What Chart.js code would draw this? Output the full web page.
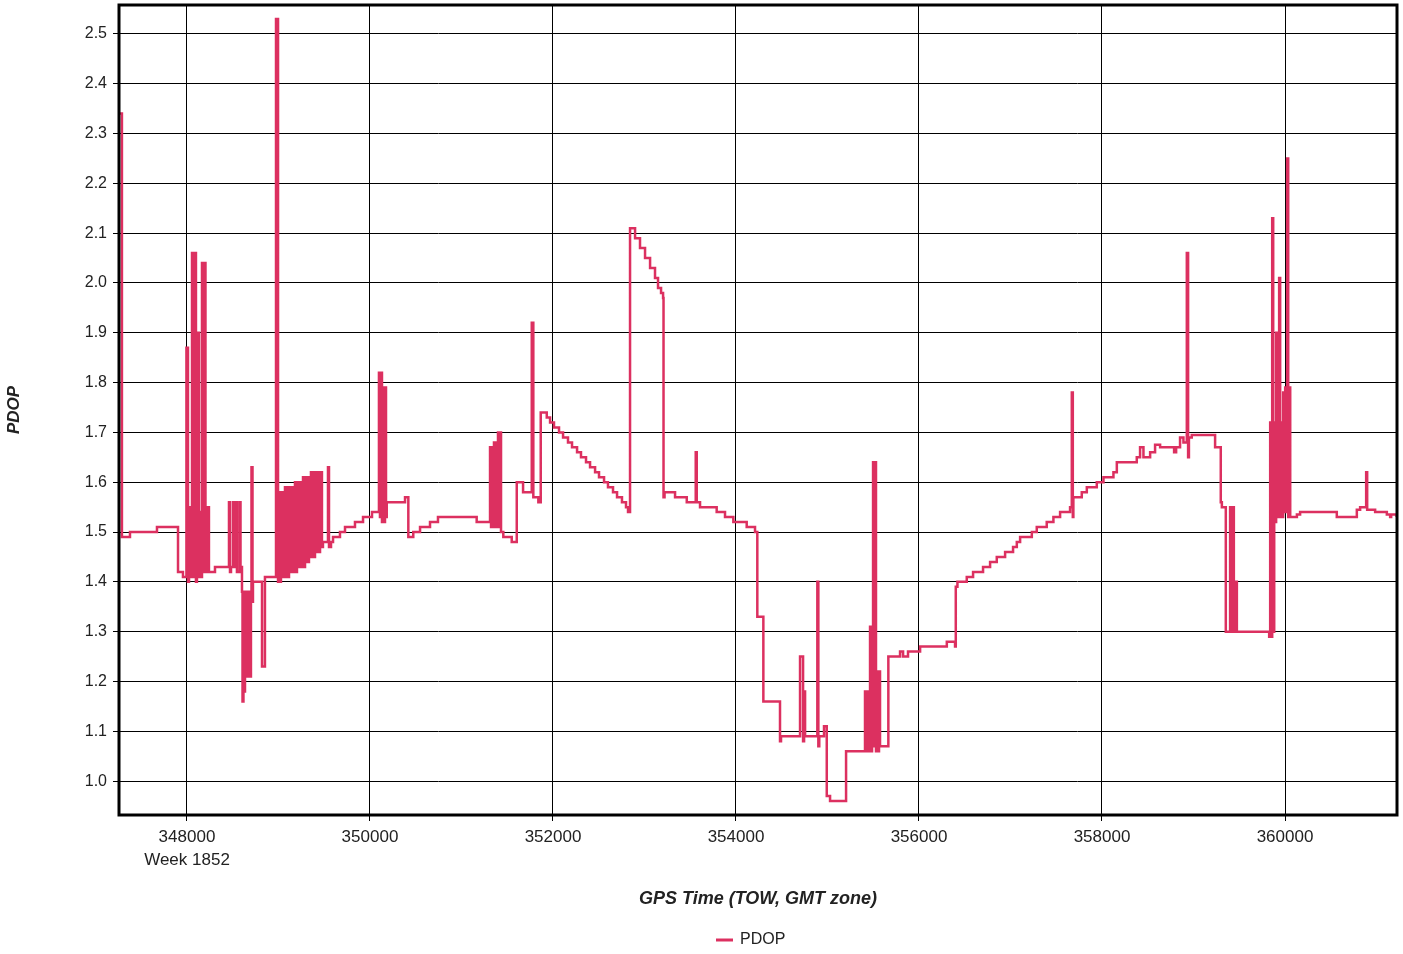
<!DOCTYPE html>
<html><head><meta charset="utf-8">
<script src="https://cdn.jsdelivr.net/npm/chart.js@4.4.1/dist/chart.umd.min.js"></script>
<style>html,body{margin:0;padding:0;background:#fff}canvas{display:block}</style>
</head><body>
<canvas id="c" width="1403" height="954"></canvas>
<script>
const seriesName = 'PDOP';
const xAxisTitle = 'GPS Time (TOW, GMT zone)';
const yAxisTitle = 'PDOP';
const xTicks = [348000, 350000, 352000, 354000, 356000, 358000, 360000];
const xTickLabels = [['348000', 'Week 1852'], '350000', '352000', '354000', '356000', '358000', '360000'];
const yTicks = [1.0, 1.1, 1.2, 1.3, 1.4, 1.5, 1.6, 1.7, 1.8, 1.9, 2.0, 2.1, 2.2, 2.3, 2.4, 2.5];
const yTickLabels = ['1.0', '1.1', '1.2', '1.3', '1.4', '1.5', '1.6', '1.7', '1.8', '1.9', '2.0', '2.1', '2.2', '2.3', '2.4', '2.5'];
const xRange = [347257, 361224];
const yRange = [0.932, 2.558];

const gpsTime = [
347268, 347289, 347377, 347672, 347902, 347956,
347994, 348011, 348022, 348033, 348044, 348055, 348071, 348076, 348098, 348109, 348120, 348131, 348142, 348153,
348164, 348180, 348186, 348202, 348208, 348219, 348229, 348240, 348306,
348459, 348470, 348481, 348503, 348514, 348535, 348546, 348574, 348585,
348601, 348607, 348617, 348623, 348634, 348645, 348656, 348667, 348678, 348689, 348699, 348705, 348716, 348721,
348820, 348852,
348973, 348995, 349005, 349016, 349027, 349038, 349049, 349060, 349071, 349082, 349093, 349104, 349115, 349126,
349137, 349148, 349158, 349169, 349180, 349191, 349202, 349213, 349224, 349235, 349246, 349257, 349268, 349279,
349290, 349301, 349312, 349322, 349333, 349344, 349355, 349366, 349377, 349388, 349399, 349410, 349421, 349432,
349454, 349475, 349486, 349541, 349552, 349574, 349596, 349672, 349727, 349836, 349924, 350022,
350098, 350109, 350120, 350131, 350142, 350153, 350164, 350175, 350183, 350383, 350419, 350473, 350547, 350656,
350743, 351166,
351312, 351323, 351333, 351344, 351355, 351366, 351377, 351388, 351399, 351410, 351421, 351432, 351457, 351549,
351604, 351673, 351768, 351785, 351840, 351866, 351932,
351968, 352011, 352066, 352110, 352164, 352208, 352263, 352306, 352361, 352405, 352460, 352503, 352558, 352601,
352656, 352700, 352754, 352798, 352820,
352842, 352897, 352951, 353006, 353061, 353115, 353148, 353181, 353203,
353208, 353219, 353334, 353462, 353560, 353571, 353607, 353789, 353880, 353971, 354117, 354208,
354233, 354299, 354481, 354492, 354700, 354733, 354744, 354755, 354889, 354900, 354910, 354962, 354992, 355028,
355203, 355410, 355421, 355443, 355454, 355465, 355476, 355487, 355498, 355508, 355519, 355530, 355541, 355552,
355563, 355574,
355665, 355793, 355826, 355880, 356012, 356304, 356394, 356402, 356420, 356522, 356591, 356700, 356777, 356850,
356941, 357028, 357069, 357105, 357233, 357287, 357396, 357469, 357542, 357651, 357670, 357681, 357687, 357779,
357834, 357943, 358016, 358125, 358162, 358380, 358416, 358453, 358526, 358580, 358635, 358788, 358810, 358853,
358890, 358927, 358941, 358950, 358981, 359236, 359298, 359310,
359353, 359400, 359411, 359430, 359441, 359456, 359474, 359827,
359838, 359849, 359860, 359871, 359882, 359893, 359903, 359914, 359925, 359936, 359947, 359958, 359969, 359980,
359991, 360002, 360013, 360024, 360035, 360046, 360057,
360130, 360165, 360566, 360785, 360821, 360887, 360898, 360985, 361113, 361149, 361160, 361220
];

const pdop = [
2.34, 1.49, 1.50, 1.51, 1.42, 1.41,
1.87, 1.40, 1.55, 1.41, 1.54, 2.06, 1.41, 2.06, 1.40, 1.54, 1.90, 1.41, 1.54, 1.41,
2.04, 1.42, 2.04, 1.42, 1.55, 1.42, 1.55, 1.42, 1.43,
1.56, 1.42, 1.43, 1.56, 1.43, 1.56, 1.42, 1.56, 1.43,
1.38, 1.16, 1.38, 1.18, 1.38, 1.21, 1.38, 1.21, 1.38, 1.21, 1.36, 1.63, 1.36, 1.40,
1.23, 1.41,
2.53, 1.40, 1.58, 1.40, 1.58, 1.41, 1.58, 1.41, 1.59, 1.41, 1.59, 1.41, 1.59, 1.42,
1.59, 1.42, 1.59, 1.42, 1.60, 1.42, 1.60, 1.43, 1.60, 1.43, 1.60, 1.43, 1.61, 1.43,
1.61, 1.44, 1.61, 1.44, 1.61, 1.45, 1.62, 1.45, 1.62, 1.45, 1.62, 1.46, 1.62, 1.46,
1.62, 1.47, 1.48, 1.63, 1.47, 1.48, 1.49, 1.50, 1.51, 1.52, 1.53, 1.54,
1.82, 1.53, 1.82, 1.52, 1.79, 1.52, 1.79, 1.53, 1.56, 1.57, 1.49, 1.50, 1.51, 1.52,
1.53, 1.52,
1.67, 1.51, 1.67, 1.51, 1.68, 1.51, 1.68, 1.51, 1.70, 1.51, 1.70, 1.50, 1.49, 1.48,
1.60, 1.58, 1.92, 1.57, 1.56, 1.74, 1.73,
1.72, 1.71, 1.70, 1.69, 1.68, 1.67, 1.66, 1.65, 1.64, 1.63, 1.62, 1.61, 1.60, 1.59,
1.58, 1.57, 1.56, 1.55, 1.54,
2.11, 2.09, 2.07, 2.05, 2.03, 2.01, 1.99, 1.98, 1.97,
1.57, 1.58, 1.57, 1.56, 1.66, 1.56, 1.55, 1.54, 1.53, 1.52, 1.51, 1.50,
1.33, 1.16, 1.08, 1.09, 1.25, 1.08, 1.18, 1.09, 1.40, 1.07, 1.09, 1.11, 0.97, 0.96,
1.06, 1.18, 1.06, 1.18, 1.06, 1.31, 1.06, 1.31, 1.64, 1.07, 1.64, 1.06, 1.22, 1.06,
1.22, 1.07,
1.25, 1.26, 1.25, 1.26, 1.27, 1.28, 1.27, 1.39, 1.40, 1.41, 1.42, 1.43, 1.44, 1.45,
1.46, 1.47, 1.48, 1.49, 1.50, 1.51, 1.52, 1.53, 1.54, 1.55, 1.78, 1.53, 1.57, 1.58,
1.59, 1.60, 1.61, 1.62, 1.64, 1.65, 1.67, 1.65, 1.66, 1.675, 1.67, 1.66, 1.67, 1.69,
1.68, 2.06, 1.65, 1.69, 1.695, 1.67, 1.56, 1.55,
1.30, 1.55, 1.30, 1.55, 1.30, 1.40, 1.30, 1.29,
1.72, 1.29, 2.13, 1.30, 1.72, 1.52, 1.90, 1.53, 1.72, 2.01, 1.53, 1.72, 1.53, 1.78,
1.54, 1.79, 1.54, 2.25, 1.53, 1.79, 1.53,
1.535, 1.54, 1.53, 1.545, 1.55, 1.62, 1.545, 1.54, 1.535, 1.53, 1.535, 1.53
];

const lineColor = '#dc3060';
const textColor = '#222222';
Chart.defaults.font.family = '"Liberation Sans", Arial, sans-serif';
Chart.defaults.color = textColor;

const framePlugin = {
  id: 'frame',
  afterDatasetsDraw(chart) {
    const {ctx, chartArea: a} = chart;
    ctx.save();
    ctx.strokeStyle = '#000';
    ctx.lineWidth = 3;
    ctx.strokeRect(a.left, a.top, a.right - a.left, a.bottom - a.top);
    ctx.restore();
  }
};

const legendPlugin = {
  id: 'seriesLegend',
  afterDraw(chart) {
    const {ctx, chartArea: a} = chart;
    const cx = (a.left + a.right) / 2;
    const y = 940;
    const x0 = cx - 42;
    ctx.save();
    ctx.strokeStyle = lineColor;
    ctx.lineWidth = 3;
    ctx.beginPath();
    ctx.moveTo(x0, y);
    ctx.lineTo(x0 + 17, y);
    ctx.stroke();
    ctx.fillStyle = textColor;
    ctx.font = '16px "Liberation Sans", Arial, sans-serif';
    ctx.textBaseline = 'middle';
    ctx.textAlign = 'left';
    ctx.fillText(seriesName, x0 + 24, y);
    ctx.restore();
  }
};

new Chart(document.getElementById('c'), {
  type: 'line',
  data: {
    datasets: [{
      label: seriesName,
      data: gpsTime.map((t, i) => ({x: t, y: pdop[i]})),
      borderColor: lineColor,
      backgroundColor: lineColor,
      borderWidth: 2.5,
      pointRadius: 0,
      stepped: true,
      fill: false
    }]
  },
  options: {
    responsive: false,
    devicePixelRatio: 1,
    animation: false,
    layout: {padding: {top: 5, right: 6, left: 0, bottom: 0}},
    plugins: {legend: {display: false}, tooltip: {enabled: false}},
    scales: {
      x: {
        type: 'linear',
        min: xRange[0],
        max: xRange[1],
        afterBuildTicks: (s) => { s.ticks = xTicks.map(v => ({value: v})); },
        afterFit: (s) => { s.height = 139; s.paddingLeft = 0; s.paddingRight = 0; },
        border: {display: false},
        grid: {color: '#000', lineWidth: 1, drawTicks: true, tickLength: 6, tickColor: '#000'},
        ticks: {
          autoSkip: false, maxRotation: 0, padding: 5,
          font: {size: 17, lineHeight: 1.35},
          color: textColor,
          callback: (v, i) => xTickLabels[i]
        },
        title: {
          display: true, text: xAxisTitle, color: textColor,
          font: {size: 18, weight: 'bold', style: 'italic'},
          padding: {top: 0, bottom: 44}
        }
      },
      y: {
        type: 'linear',
        min: yRange[0],
        max: yRange[1],
        afterBuildTicks: (s) => { s.ticks = yTicks.map(v => ({value: v})); },
        afterFit: (s) => { s.width = 119; s.paddingTop = 0; s.paddingBottom = 0; },
        border: {display: false},
        grid: {color: '#000', lineWidth: 1, drawTicks: true, tickLength: 6, tickColor: '#000'},
        ticks: {
          padding: 6,
          font: {size: 16},
          color: textColor,
          callback: (v, i) => yTickLabels[i]
        },
        title: {
          display: true, text: yAxisTitle, color: textColor,
          font: {size: 17, weight: 'bold', style: 'italic'},
          padding: {top: 4, bottom: 0}
        }
      }
    }
  },
  plugins: [framePlugin, legendPlugin]
});
</script>
</body></html>
